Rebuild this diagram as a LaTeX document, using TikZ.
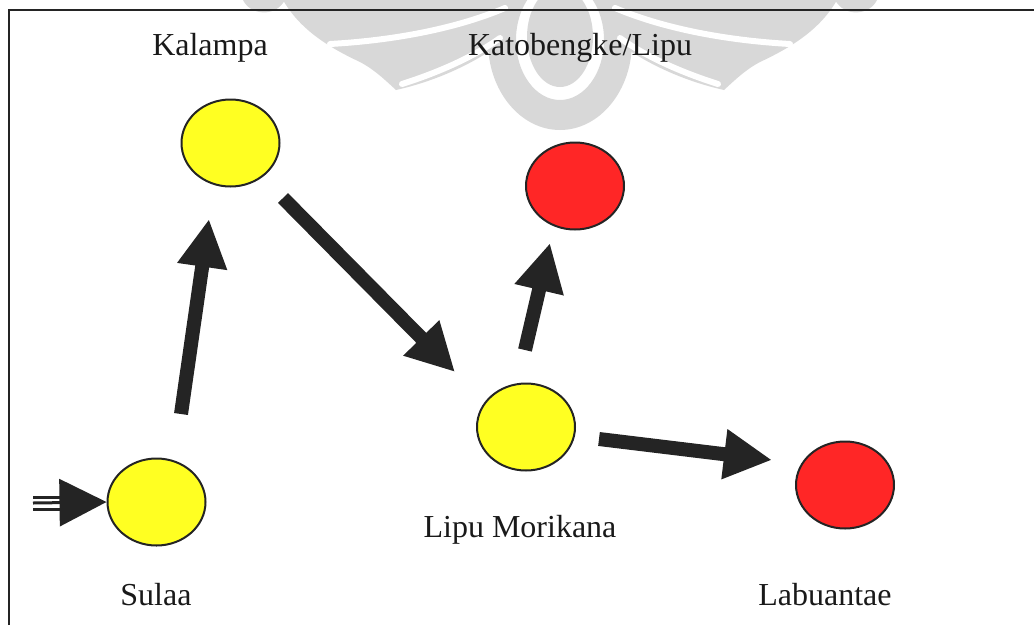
\documentclass[tikz,border=0pt]{standalone}
\usepackage{fontspec}
\setmainfont{Liberation Serif}
\usetikzlibrary{shapes.geometric,arrows.meta,calc}
\definecolor{nodeyellow}{RGB}{255,255,34}
\definecolor{nodered}{RGB}{255,38,38}
\definecolor{ink}{RGB}{36,36,36}
\definecolor{emblem}{RGB}{216,216,216}

\begin{document}
\begin{tikzpicture}[x=1pt,y=-1pt,
  place/.style={ellipse, draw=ink, line width=2pt, minimum width=98pt,
    minimum height=87pt, inner sep=0pt},
  yellowplace/.style={place, fill=nodeyellow},
  redplace/.style={place, fill=nodered},
  lbl/.style={anchor=base, text=black!90, inner sep=0pt,
    font=\fontsize{32}{38}\selectfont},
  flow/.style={draw=ink, line width=14pt, -{Triangle[length=48pt,width=47pt]}},
  feed/.style={draw=ink, line width=3pt},
  feather/.style={white, line width=6pt, line cap=round},
]
\clip (0,0) rectangle (1034,625);

% faint emblem in the background
\begin{scope}
  \fill[emblem, even odd rule] (560,42) ellipse [x radius=72, y radius=88]
                               (560,40) ellipse [x radius=44, y radius=60];
  \fill[emblem] (560,37) ellipse [x radius=33, y radius=50];
  \foreach \mirror in {1,-1}{
    \begin{scope}[shift={(560,0)}, xscale=\mirror, shift={(-560,0)}]
      \fill[emblem] (283,0) .. controls (300,30) and (330,48) .. (360,62)
        .. controls (375,70) and (385,80) .. (396,90)
        .. controls (432,82) and (470,66) .. (500,44) -- (505,0) -- cycle;
      \draw[feather] (330,44) .. controls (400,40) and (460,27) .. (505,8);
      \draw[feather] (402,84) .. controls (440,72) and (475,56) .. (500,38);
      \fill[emblem] (243,0) .. controls (250,15) and (275,18) .. (285,0) -- cycle;
    \end{scope}
  }
\end{scope}

% frame
\draw[ink, line width=2.7pt] (9,625) -- (9,10) -- (1034,10);

% places
\node[yellowplace] (sulaa)    at (156.5,502) {};
\node[yellowplace] (kalampa)  at (230.5,143) {};
\node[yellowplace] (morikana) at (526,427)   {};
\node[redplace]    (katob)    at (575,186)   {};
\node[redplace]    (labuan)   at (845,485)   {};

% labels
\node[lbl] (tkalampa)  at (210,55)  {Kalampa};
\node[lbl] (tkatob)    at (580,55)  {Katobengke/Lipu};
\node[lbl] (tmorikana) at (520,537) {Lipu Morikana};
\node[lbl] (tsulaa)    at (156,605) {Sulaa};
\node[lbl] (tlabuan)   at (825,605) {Labuantae};

% arrow end points
\coordinate (a1s) at ($(sulaa)+(24.5,-88)$);
\coordinate (a1e) at ($(kalampa)+(-21.5,76)$);
\coordinate (a2s) at ($(kalampa)+(52.5,55)$);
\coordinate (a2e) at ($(morikana)+(-71,-55)$);
\coordinate (a3s) at ($(morikana)+(-1,-77)$);
\coordinate (a3e) at ($(katob)+(-25,57)$);
\coordinate (a4s) at ($(morikana)+(73,12)$);
\coordinate (a4e) at ($(labuan)+(-73,-25)$);

\draw[flow] (a1s) -- (a1e);
\draw[flow] (a2s) -- (a2e);
\draw[flow] (a3s) -- (a3e);
\draw[flow] (a4s) -- (a4e);

% entry arrow into Sulaa
\coordinate (entry) at (33,503);
\draw[feed, -{Triangle[length=47pt,width=47pt]}] (entry) -- (sulaa.west);
\draw[feed] ($(entry)+(0,-6)$) -- +(28,0);
\draw[feed] ($(entry)+(0,6)$) -- +(28,0);
\end{tikzpicture}
\end{document}
